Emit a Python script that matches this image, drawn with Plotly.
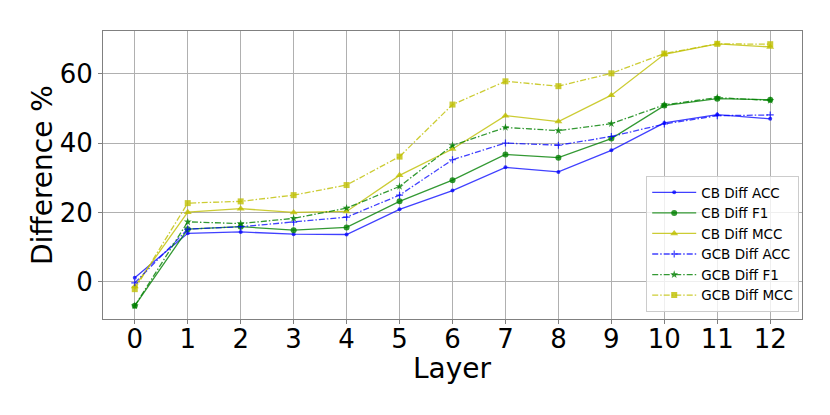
import plotly.graph_objects as go

layers = list(range(13))
cb_acc = [1.2, 14.0, 14.4, 13.75, 13.65, 20.9, 26.3, 33.0, 31.7, 37.9, 45.8, 48.2, 47.0]
cb_f1 = [-6.9, 15.2, 15.9, 14.9, 15.7, 23.2, 29.3, 36.7, 35.8, 41.3, 50.8, 52.8, 52.5]
cb_mcc = [-1.3, 20.1, 21.1, 20.0, 20.3, 30.7, 38.3, 47.9, 46.2, 53.8, 65.6, 68.6, 67.7]
gcb_acc = [-0.3, 15.2, 15.9, 17.2, 18.65, 25.0, 35.2, 40.0, 39.4, 41.9, 45.5, 47.9, 48.1]
gcb_f1 = [-6.9, 17.3, 16.8, 18.3, 21.25, 27.5, 39.3, 44.5, 43.6, 45.6, 51.0, 53.1, 52.3]
gcb_mcc = [-2.1, 22.7, 23.2, 25.0, 27.9, 36.1, 51.1, 57.8, 56.4, 60.1, 65.8, 68.6, 68.5]
x_ticks = [str(i) for i in layers]

BLUE = "rgba(0,0,255,0.75)"
GREEN = "rgba(0,128,0,0.8)"
YEL = "rgba(191,191,0,0.8)"
DASHDOT = "6px,2px,1.5px,2px"

series = [
    ("CB Diff ACC", cb_acc, BLUE, "solid", "circle", 4),
    ("CB Diff F1", cb_f1, GREEN, "solid", "circle", 6),
    ("CB Diff MCC", cb_mcc, YEL, "solid", "triangle-up", 7),
    ("GCB Diff ACC", gcb_acc, BLUE, DASHDOT, "cross-thin", 5),
    ("GCB Diff F1", gcb_f1, GREEN, DASHDOT, "star", 6),
    ("GCB Diff MCC", gcb_mcc, YEL, DASHDOT, "square", 6),
]

fig = go.Figure()
for name, vals, col, dash, sym, sz in series:
    mk = dict(symbol=sym, size=sz, color=col)
    if sym == "cross-thin":
        mk["line"] = dict(color=col, width=1.2)
    else:
        mk["line"] = dict(width=0)
    fig.add_trace(go.Scatter(
        x=layers, y=vals, name=name, mode="lines+markers",
        line=dict(color=col, width=1.3, dash=dash),
        marker=mk,
    ))

fig.update_layout(
    width=830, height=415,
    margin=dict(l=103, r=28, t=31, b=96),
    paper_bgcolor="white", plot_bgcolor="white",
    font=dict(family="DejaVu Sans", color="black"),
    legend=dict(
        x=0.996, y=0.024, xanchor="right", yanchor="bottom",
        bgcolor="rgba(255,255,255,0.8)", bordercolor="#cccccc", borderwidth=1,
        font=dict(size=13.5, family="DejaVu Sans"),
        tracegroupgap=0, itemwidth=44,
    ),
    showlegend=True,
    annotations=[
        dict(text="Layer", xref="paper", yref="paper", x=0.5, y=-0.172,
             xanchor="center", yanchor="middle", showarrow=False,
             font=dict(size=28)),
        dict(text="Difference %", xref="paper", yref="paper", x=-0.0873, y=0.5,
             xanchor="center", yanchor="middle", showarrow=False, textangle=-90,
             font=dict(size=28)),
    ],
)
fig.update_xaxes(
    range=[-0.6, 12.6], tickmode="array", tickvals=layers, ticktext=x_ticks,
    showgrid=True, gridcolor="#b0b0b0", gridwidth=0.8,
    showline=True, linecolor="#808080", linewidth=1, mirror=True,
    ticks="outside", ticklen=4, tickcolor="#808080",
    tickfont=dict(size=26), zeroline=False, automargin=False,
    ticklabelstandoff=-7,
)
fig.update_yaxes(
    range=[-10.7, 72.3], tickvals=[0, 20, 40, 60],
    showgrid=True, gridcolor="#b0b0b0", gridwidth=0.8,
    showline=True, linecolor="#808080", linewidth=1, mirror=True,
    ticks="outside", ticklen=4, tickcolor="#808080",
    tickfont=dict(size=26), zeroline=False, automargin=False,
)
fig.write_html("out.html", config={"displayModeBar": False},
               post_script="document.body.style.margin='0';")
